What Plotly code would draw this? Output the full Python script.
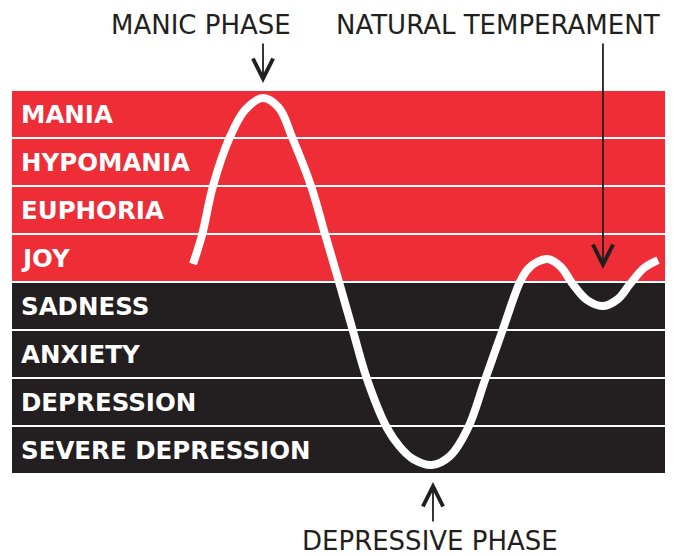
import plotly.graph_objects as go

# Mood scale categories, top to bottom
moods = ["MANIA", "HYPOMANIA", "EUPHORIA", "JOY",
         "SADNESS", "ANXIETY", "DEPRESSION", "SEVERE DEPRESSION"]
levels = [7.5, 6.5, 5.5, 4.5, 3.5, 2.5, 1.5, 0.5]
band_colors = ["#EE2D37"] * 4 + ["#231F20"] * 4
band_length = [100] * 8

# Mood curve (time in arbitrary units, mood on the band scale)
time = [27.72, 29.10, 30.78, 33.38, 35.68, 38.44, 40.89, 42.88, 45.79, 47.93,
        50.08, 52.22, 54.36, 57.43, 59.42, 61.41, 64.32, 67.08, 69.83, 72.43,
        75.19, 77.79, 79.02, 80.40, 82.08, 84.07, 85.76, 88.06, 90.51, 92.80,
        94.64, 96.78, 98.93]
mood = [4.375, 4.979, 6.000, 7.021, 7.583, 7.833, 7.625, 7.021, 6.000, 5.000,
        4.000, 2.979, 1.979, 0.958, 0.5625, 0.3125, 0.1875, 0.375, 0.958, 1.958,
        3.021, 4.000, 4.271, 4.417, 4.479, 4.313, 3.979, 3.625, 3.500, 3.646,
        3.958, 4.292, 4.458]

# Phase callouts
phase_labels = ["MANIC PHASE", "NATURAL TEMPERAMENT", "DEPRESSIVE PHASE"]
phase_text_x = [28.94, 74.5, 64.0]
phase_text_y = [9.354, 9.354, -1.396]
arrow_tail_x = [38.44, 90.5, 64.47]
arrow_tail_y = [9.0, 9.0, -1.02]
arrow_tip_y = [8.146, 4.27, -0.167]

INK = "#231F20"

fig = go.Figure()
fig.add_trace(go.Bar(
    orientation="h", y=levels, x=band_length, base=0, width=0.95,
    marker=dict(color=band_colors, line=dict(width=0)),
    hoverinfo="skip", showlegend=False))
fig.add_trace(go.Scatter(
    x=time, y=mood, mode="lines",
    line=dict(color="white", width=8, shape="spline", smoothing=1.0),
    hoverinfo="skip", showlegend=False))

annotations = []
for name, lv in zip(moods, levels):
    annotations.append(dict(
        x=1.0, y=lv, xref="x", yref="y", text=name, showarrow=False,
        xanchor="left", yanchor="middle",
        font=dict(family="DejaVu Sans", size=24.5, color="white", weight="bold")))
for lab, tx, ty in zip(phase_labels, phase_text_x, phase_text_y):
    annotations.append(dict(
        x=tx, y=ty, xref="x", yref="y", text=lab, showarrow=False,
        xanchor="center", yanchor="middle",
        font=dict(family="DejaVu Sans", size=26, color=INK)))
for ax_, ay_, ty in zip(arrow_tail_x, arrow_tail_y, arrow_tip_y):
    annotations.append(dict(
        x=ax_, y=ty, xref="x", yref="y", ax=ax_, ay=ay_, axref="x", ayref="y",
        text="", showarrow=True, arrowhead=5, arrowsize=2.2, arrowwidth=1.8,
        arrowcolor=INK, standoff=0, startstandoff=0))

# The page body adds an 8px margin, so the figure is 8px smaller each way
fig.update_layout(
    width=674, height=548,
    margin=dict(l=0, r=0, t=0, b=0),
    paper_bgcolor="white", plot_bgcolor="white",
    xaxis=dict(range=[-4 / 6.53, 670 / 6.53], visible=False, fixedrange=True),
    yaxis=dict(range=[-82 / 48, 466 / 48], visible=False, fixedrange=True),
    annotations=annotations,
    bargap=0,
)

fig.write_html("out.html", config={"displayModeBar": False})
